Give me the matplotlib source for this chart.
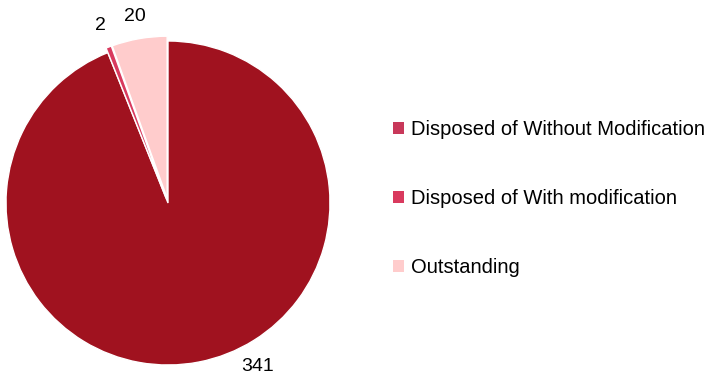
import matplotlib.pyplot as plt
from matplotlib.patches import Patch

plt.rcParams['font.family'] = ['Liberation Sans', 'DejaVu Sans']

# Data
categories = ['Disposed of Without Modification', 'Disposed of With modification', 'Outstanding']
values = [341, 2, 20]
slice_colors = ['#A0121F', '#D93A5E', '#FFCCCC']
legend_colors = ['#C8385A', '#D93A5E', '#FFCCCC']

fig = plt.figure(figsize=(7.11, 3.79), dpi=100)
ax = fig.add_axes([168 / 711 - 162 / 711, 1 - 365 / 379, 324 / 711, 324 / 379])

wedges, texts = ax.pie(values, labels=[str(v) for v in values], colors=slice_colors,
                       startangle=90, counterclock=False, explode=[0, 0.03, 0.03],
                       labeldistance=1.14,
                       wedgeprops=dict(edgecolor='white', linewidth=1),
                       textprops=dict(fontsize=14, color='black'))
for t in texts:
    t.set_ha('center')
    t.set_va('center')
# the big slice's label sits below-right of the pie
texts[0].set_position((0.556, -1.01))
ax.set_xlim(-1, 1)
ax.set_ylim(-1, 1)
ax.set_aspect('equal')

handles = [Patch(facecolor=c, edgecolor='none') for c in legend_colors]
fig.legend(handles, categories, loc='center left', bbox_to_anchor=(0.553, 0.476),
           frameon=False, fontsize=14.5, labelspacing=2.5, handlelength=0.55,
           handleheight=0.55, handletextpad=0.35, borderpad=0, borderaxespad=0)

fig.savefig('out.png', dpi=100)
